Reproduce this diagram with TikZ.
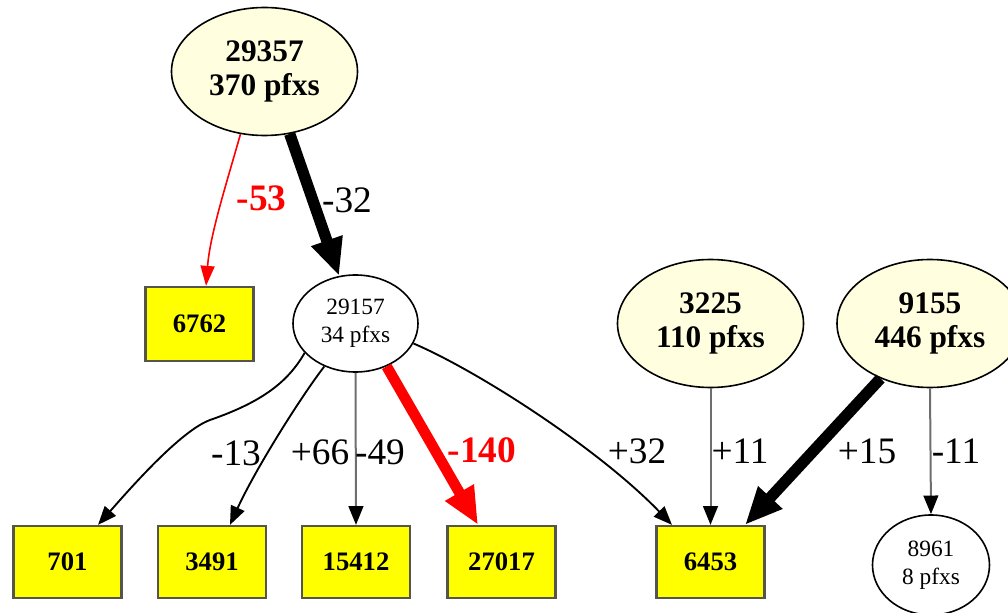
\documentclass[tikz,border=0pt]{standalone}
\usepackage{fontspec}
\setmainfont{Liberation Serif}
\usetikzlibrary{arrows.meta,shapes.geometric}
\definecolor{asfill}{RGB}{255,255,224}
\definecolor{boxfill}{RGB}{255,255,0}
\definecolor{boxline}{RGB}{85,85,75}
\definecolor{edgegray}{RGB}{110,110,110}
\tikzset{
  bigas/.style={ellipse, draw, line width=1.2pt, fill=asfill, minimum width=139.5pt,
    minimum height=96pt, inner sep=0pt, align=center,
    font=\fontsize{23.5}{26}\selectfont\bfseries},
  smallas/.style={ellipse, draw, line width=1.2pt, fill=white, inner sep=0pt, align=center,
    font=\fontsize{17.5}{21}\selectfont},
  pfxbox/.style={rectangle, draw=boxline, line width=1.7pt, fill=boxfill, minimum width=81pt,
    minimum height=54pt, inner sep=0pt, font=\fontsize{20}{24}\selectfont\bfseries},
  elabel/.style={inner sep=0pt, font=\fontsize{28}{30}\selectfont},
  hotlabel/.style={inner sep=0pt, text=red, font=\fontsize{28}{30}\selectfont\bfseries},
  flow/.style={line width=1.4pt, -{Triangle[length=14pt,width=11pt]}},
  grayflow/.style={line width=1.5pt, draw=edgegray, -{Triangle[length=14pt,width=11pt,color=black]}},
  redflow/.style={line width=1.2pt, draw=red, -{Triangle[length=15pt,width=10.5pt,color=red]}},
  heavyflow/.style={line width=8.5pt, -{Triangle[length=28pt,width=23pt]}},
  heavyred/.style={line width=8pt, draw=red, -{Triangle[length=28pt,width=23pt,color=red]}},
}
\begin{document}
\begin{tikzpicture}[x=0.75pt, y=-0.75pt]
  \clip (0,0) rectangle (1008,613);

  % origin systems
  \node[bigas] (A) at (264.5,71.5) {29357\\370 pfxs};
  \node[bigas] (C) at (710.5,323.5) {3225\\110 pfxs};
  \node[bigas] (D) at (930,323.5) {9155\\446 pfxs};

  % transit systems
  \node[smallas, minimum width=93.75pt, minimum height=72.75pt] (B) at (355.5,323.5) {29157\\34 pfxs};
  \node[smallas, minimum width=87.75pt, minimum height=75pt] (E) at (931,565) {8961\\8 pfxs};

  % leaf systems
  \node[pfxbox, minimum height=55.5pt] (N6762) at (199.5,324) {6762};
  \node[pfxbox] (N701)   at (67.5,562)  {701};
  \node[pfxbox] (N3491)  at (212,562)   {3491};
  \node[pfxbox] (N15412) at (356,562)   {15412};
  \node[pfxbox] (N27017) at (501.5,562) {27017};
  \node[pfxbox] (N6453)  at (710.5,562) {6453};

  % connectors
  \draw[redflow] (A.249) .. controls (226,185) and (210,235) .. ([xshift=4.9pt]N6762.north);
  \draw[heavyflow] (A.292) -- (B.109);
  \draw[flow] (B.210) .. controls (288,382) and (262,402) .. (210,420)
              .. controls (180,431) and (128,491) .. ([xshift=22.9pt]N701.north);
  \draw[flow] (B.234) .. controls (300,398) and (255,470) .. ([xshift=13.5pt]N3491.north);
  \draw[grayflow] (B.south) -- (N15412.north);
  \draw[heavyred] (B.306) -- ([xshift=-17.6pt]N27017.north);
  \draw[flow] (B.341) .. controls (480,372) and (600,450) .. ([xshift=-28.9pt]N6453.north);
  \draw[grayflow] (C.south) -- (N6453.north);
  \draw[heavyflow] (D.228) -- ([xshift=25.9pt]N6453.north);
  \draw[grayflow] (D.south) -- (E.north);

  % connector labels
  \node[hotlabel] (l53)  at (261.5,198) {-53};
  \node[elabel]   (l32)  at (347,200)   {-32};
  \node[elabel]   (l13)  at (236,453)   {-13};
  \node[elabel]   (l66)  at (320,452)   {+66};
  \node[elabel]   (l49)  at (380,452)   {-49};
  \node[hotlabel] (l140) at (482,450)   {-140};
  \node[elabel]   (l32b) at (637,451)   {+32};
  \node[elabel]   (l11)  at (740,451)   {+11};
  \node[elabel]   (l15)  at (867,451)   {+15};
  \node[elabel]   (l11b) at (956,451)   {-11};
\end{tikzpicture}
\end{document}
